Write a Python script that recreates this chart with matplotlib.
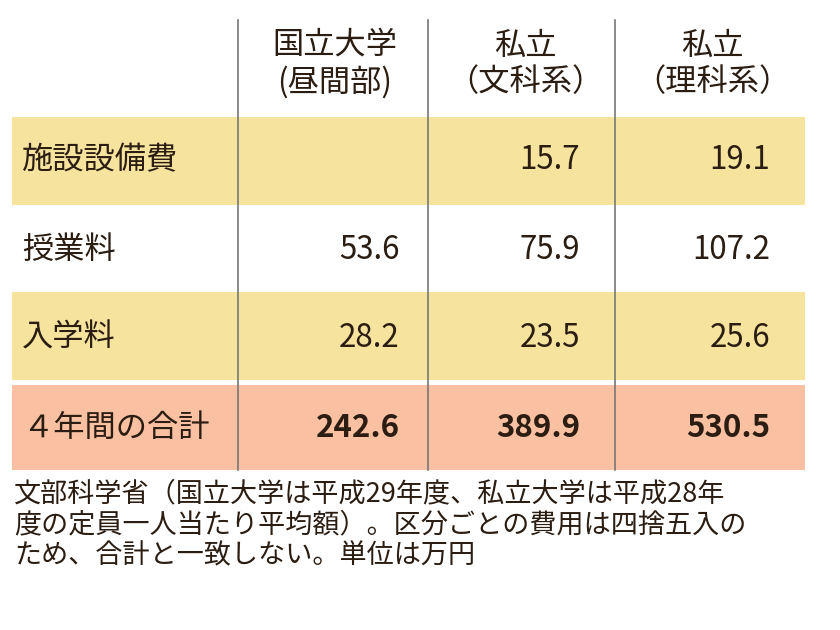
import matplotlib
matplotlib.use("Agg")
import matplotlib.pyplot as plt
from matplotlib.patches import Rectangle

headers = ["国立大学\n(昼間部)", "私立\n（文科系）", "私立\n（理科系）"]
categories = ["施設設備費", "授業料", "入学料", "４年間の合計"]
national = [None, 53.6, 28.2, 242.6]
private_arts = [15.7, 75.9, 23.5, 389.9]
private_sci = [19.1, 107.2, 25.6, 530.5]
note = ("文部科学省（国立大学は平成29年度、私立大学は平成28年\n"
        "度の定員一人当たり平均額）。区分ごとの費用は四捨五入の\n"
        "ため、合計と一致しない。単位は万円")

fp = "Noto Sans CJK JP"
tc = "#2b1d12"
fig = plt.figure(figsize=(8.4, 6.3), dpi=100)
ax = fig.add_axes([0, 0, 1, 1])
ax.set_xlim(0, 840); ax.set_ylim(630, 0); ax.axis("off")

bands = [(117, 205, "#f5e39e"), None, (292, 380, "#f5e39e"), (385, 470, "#f9c0a2")]
row_y = [160, 250, 338, 428]
for b in bands:
    if b:
        ax.add_patch(Rectangle((12, b[0]), 793, b[1] - b[0], color=b[2], lw=0))
for x in [238, 428, 615]:
    ax.plot([x, x], [20, 470], color="#777777", lw=1.2)

hx = [335, 525, 712]
for x, h in zip(hx, headers):
    ax.text(x, 64, h, ha="center", va="center", fontsize=22.5, family=fp, color=tc, linespacing=1.2)

cols = [national, private_arts, private_sci]
vx = [400, 580, 770]
for i, (cat, y) in enumerate(zip(categories, row_y)):
    ax.text(22, y, cat, ha="left", va="center", fontsize=22.5, family=fp, color=tc)
    for x, col in zip(vx, cols):
        v = col[i]
        if v is not None:
            ax.text(x, y, f"{v:.1f}", ha="right", va="center", fontsize=22.5, family=fp,
                    color=tc, fontweight="bold" if i == 3 else "normal")

ax.text(14, 480, note, ha="left", va="top", fontsize=19.5, family=fp, color=tc, linespacing=1.2)
fig.savefig("out.png", dpi=100)
